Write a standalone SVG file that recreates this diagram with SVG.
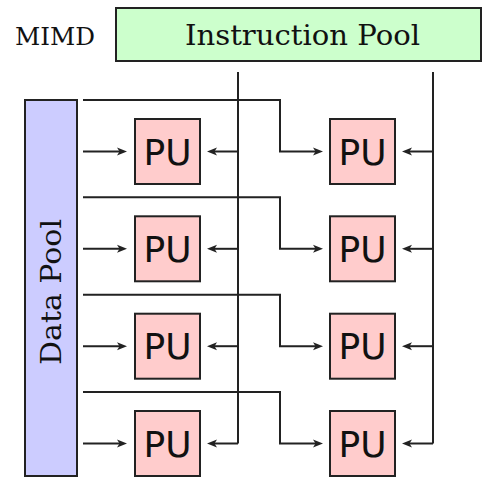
<svg xmlns="http://www.w3.org/2000/svg" width="484" height="478" viewBox="0 0 484 478">
<defs>
<style>
.box{stroke:#222;stroke-width:2}
.ip{fill:#ccffcc}
.dp{fill:#ccccff}
.pu{fill:#ffcccc}
.ser{font-family:"DejaVu Serif","Liberation Serif",serif;fill:#111}
.pul{font-family:"DejaVu Sans","Liberation Sans",sans-serif;font-size:36px;fill:#111;text-anchor:middle}
.ln{fill:none;stroke:#222;stroke-width:2}
.ar{marker-end:url(#ah)}
</style>
<marker id="ah" viewBox="0 0 10 10" refX="5" refY="5" markerWidth="10" markerHeight="10" markerUnits="userSpaceOnUse" orient="auto">
<path d="M0,1 L10,5 L0,9 L2.5,5 z" fill="#222"/>
</marker>
</defs>
<rect width="484" height="478" fill="#fff"/>
<text class="ser" x="15" y="45" font-size="24" textLength="80" lengthAdjust="spacingAndGlyphs">MIMD</text>
<g id="instruction-pool">
<rect class="box ip" x="116" y="8" width="365" height="53"/>
<text class="ser" x="185" y="45" font-size="28" textLength="235" lengthAdjust="spacingAndGlyphs">Instruction Pool</text>
</g>
<g id="data-pool">
<rect class="box dp" x="25" y="100" width="52" height="376"/>
<text class="ser" x="0" y="0" font-size="28" text-anchor="middle" textLength="146" lengthAdjust="spacingAndGlyphs" transform="translate(61,292) rotate(-90)">Data Pool</text>
</g>
<g id="connectors">
<path class="ln" d="M238,72 V443.5 M433,72 V443.5"/>
<path class="ln ar" d="M238,151.5 H212"/>
<path class="ln ar" d="M238,248.8 H212"/>
<path class="ln ar" d="M238,346.2 H212"/>
<path class="ln ar" d="M238,443.5 H212"/>
<path class="ln ar" d="M433,151.5 H407"/>
<path class="ln ar" d="M433,248.8 H407"/>
<path class="ln ar" d="M433,346.2 H407"/>
<path class="ln ar" d="M433,443.5 H407"/>
<path class="ln ar" d="M83,151.5 H122"/>
<path class="ln ar" d="M83,248.8 H122"/>
<path class="ln ar" d="M83,346.2 H122"/>
<path class="ln ar" d="M83,443.5 H122"/>
<path class="ln ar" d="M83,100 H280 V151.5 H318"/>
<path class="ln ar" d="M83,197.3 H280 V248.8 H318"/>
<path class="ln ar" d="M83,294.7 H280 V346.2 H318"/>
<path class="ln ar" d="M83,392 H280 V443.5 H318"/>
</g>
<g id="pu-1-1"><rect class="box pu" x="135" y="119" width="65" height="65"/><text class="pul" x="167.5" y="164.5">PU</text></g>
<g id="pu-1-2"><rect class="box pu" x="330" y="119" width="65" height="65"/><text class="pul" x="362.5" y="164.5">PU</text></g>
<g id="pu-2-1"><rect class="box pu" x="135" y="216.3" width="65" height="65"/><text class="pul" x="167.5" y="261.8">PU</text></g>
<g id="pu-2-2"><rect class="box pu" x="330" y="216.3" width="65" height="65"/><text class="pul" x="362.5" y="261.8">PU</text></g>
<g id="pu-3-1"><rect class="box pu" x="135" y="313.7" width="65" height="65"/><text class="pul" x="167.5" y="359.2">PU</text></g>
<g id="pu-3-2"><rect class="box pu" x="330" y="313.7" width="65" height="65"/><text class="pul" x="362.5" y="359.2">PU</text></g>
<g id="pu-4-1"><rect class="box pu" x="135" y="411" width="65" height="65"/><text class="pul" x="167.5" y="456.5">PU</text></g>
<g id="pu-4-2"><rect class="box pu" x="330" y="411" width="65" height="65"/><text class="pul" x="362.5" y="456.5">PU</text></g>
</svg>
